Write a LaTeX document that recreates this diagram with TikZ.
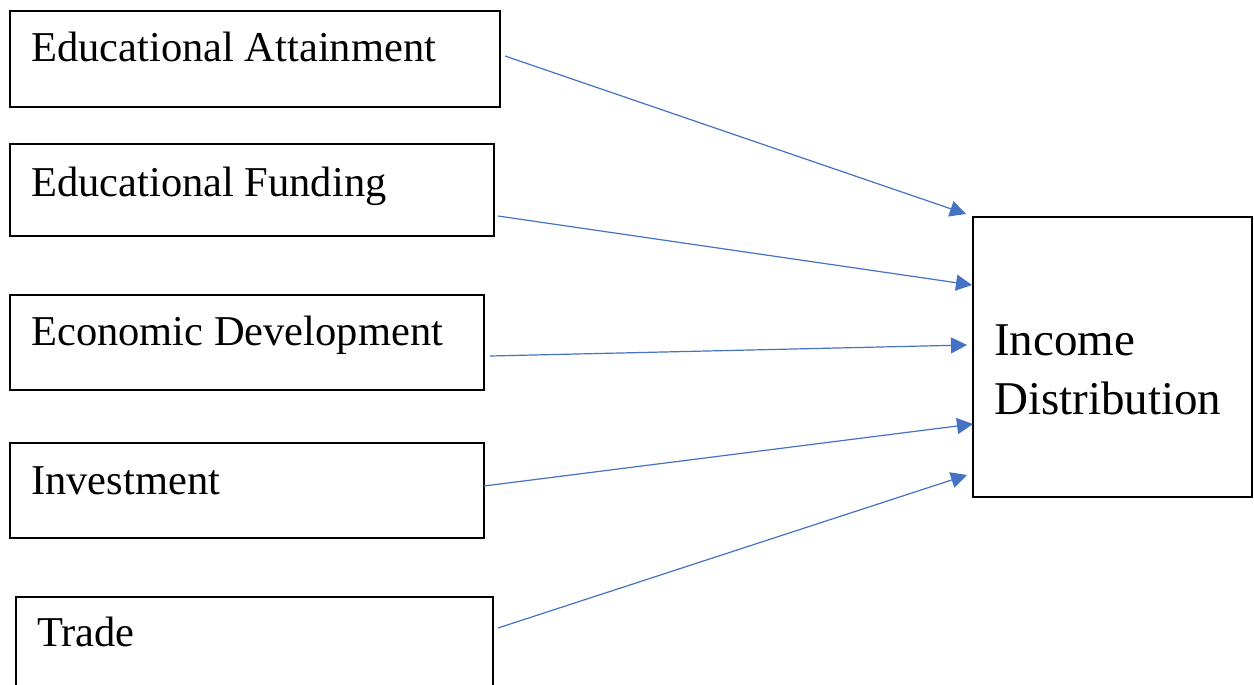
\documentclass[tikz,border=0pt]{standalone}
\usepackage{fontspec}
\setmainfont{Liberation Serif}
\usetikzlibrary{arrows.meta}
\definecolor{arrowblue}{HTML}{4472C4}
\begin{document}
\begin{tikzpicture}[x=1pt,y=-1pt,
  box/.style={draw=black,line width=1.6pt,inner sep=0pt,outer sep=0pt},
  lbl/.style={anchor=base west,inner sep=0pt,font=\fontsize{42.5}{51}\selectfont},
  bigl/.style={anchor=base west,inner sep=0pt,align=left,font=\fontsize{47}{59}\selectfont},
  conn/.style={draw=arrowblue,line width=1.2pt,-{Triangle[length=16pt,width=16pt]}}]
\clip (0,0) rectangle (1254,685);
\fill[white] (0,0) rectangle (1254,685);
% boxes
\node[box,minimum width=490pt,minimum height=96pt,anchor=north west] (b1) at (10,11) {};
\node[box,minimum width=484pt,minimum height=92pt,anchor=north west] (b2) at (10,144) {};
\node[box,minimum width=474pt,minimum height=95pt,anchor=north west] (b3) at (10,295) {};
\node[box,minimum width=474pt,minimum height=95pt,anchor=north west,line width=1.1pt] (b4) at (10,443) {};
\node[box,minimum width=477pt,minimum height=120pt,anchor=north west,line width=1.1pt] (b5) at (16,597) {};
\node[box,minimum width=279pt,minimum height=280pt,anchor=north west] (inc) at (973,217) {};
% labels
\node[lbl] (t1) at (31,62) {Educational Attainment};
\node[lbl] (t2) at (31,196) {Educational Funding};
\node[lbl] (t3) at (31,345) {Economic Development};
\node[lbl] (t4) at (31,494) {Investment};
\node[lbl] (t5) at (37,646) {Trade};
\node[bigl] (ti) at (994,414) {Income\\Distribution};
% connector end points
\coordinate (s1) at (505,56);  \coordinate (e1) at (966,214);
\coordinate (s2) at (498,216); \coordinate (e2) at (972,285);
\coordinate (s3) at (490,356); \coordinate (e3) at (967,345);
\coordinate (s4) at (484,486); \coordinate (e4) at (973,424);
\coordinate (s5) at (498,628); \coordinate (e5) at (967,475);
\draw[conn] (s1) -- (e1);
\draw[conn] (s2) -- (e2);
\draw[conn] (s3) -- (e3);
\draw[conn] (s4) -- (e4);
\draw[conn] (s5) -- (e5);
\end{tikzpicture}
\end{document}
